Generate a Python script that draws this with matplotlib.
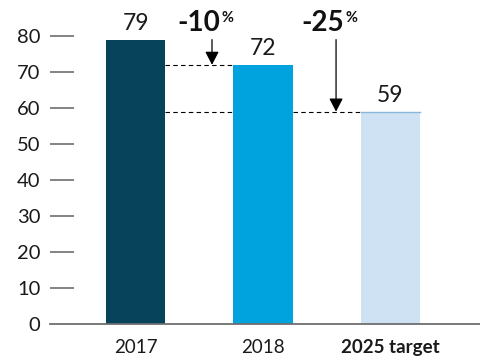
import matplotlib
matplotlib.use("Agg")
import matplotlib.pyplot as plt
from matplotlib.patches import FancyArrowPatch

# Data
categories = ["2017", "2018", "2025 target"]
values = [79, 72, 59]
bar_colors = ["#07435b", "#00a3dd", "#cfe2f3"]
changes = ["-10", "-25"]
y_ticks = [0, 10, 20, 30, 40, 50, 60, 70, 80]

plt.rcParams["font.family"] = ["Lato", "DejaVu Sans"]

fig = plt.figure(figsize=(4.8, 3.6), dpi=100)
ax = fig.add_axes([50 / 480, 0.1, 430 / 480, 0.9])

x = list(range(len(categories)))
width = 0.463
bars = ax.bar(x, values, width=width, color=bar_colors, zorder=2)
# thin top edge on the target bar
ax.plot([x[2] - width / 2, x[2] + width / 2], [values[2], values[2]],
        color="#8cb6d8", lw=1.0, zorder=3)

ax.set_xlim(-0.6706, 2.702)
ax.set_ylim(0, 90)

# value labels
for xi, v in zip(x, values):
    ax.annotate(str(v), (xi, v), xytext=(0, 7), textcoords="offset points",
                ha="center", va="baseline", fontsize=16.5, color="#1a1a1a")

# dashed reference lines between bars
dash = dict(color="black", lw=0.8, ls=(0, (4, 3)), zorder=1)
half = width / 2
ax.plot([x[0] + half, x[1] - half], [values[1], values[1]], **dash)
ax.plot([x[0] + half, x[1] - half], [values[2], values[2]], **dash)
ax.plot([x[1] + half, x[2] - half], [values[2], values[2]], **dash)

# arrows and change labels
arrow_x = [0.6, 1.573]
targets = [values[1], values[2]]
for ax_x, tgt, lab in zip(arrow_x, targets, changes):
    arr = FancyArrowPatch((ax_x, 79.0), (ax_x, tgt), arrowstyle="-|>,head_length=5,head_width=2.6",
                          mutation_scale=1.6, color="black", lw=0.9, shrinkA=0, shrinkB=0, zorder=4)
    ax.add_patch(arr)
    ax.annotate(lab, (ax_x, 81.3), xytext=(6, 0), textcoords="offset points",
                ha="right", va="baseline", fontsize=20, fontweight="bold", color="#111111")
    ax.annotate("%", (ax_x, 81.3), xytext=(6.5, 7.0), textcoords="offset points",
                ha="left", va="baseline", fontsize=10.5, fontweight="bold", color="#111111")

# axes styling
for s in ["top", "right", "left"]:
    ax.spines[s].set_visible(False)
ax.spines["bottom"].set_color("#6e6e6e")
ax.spines["bottom"].set_linewidth(1.3)
ax.spines["bottom"].set_zorder(5)

ax.set_yticks(y_ticks)
ax.set_yticklabels([str(t) for t in y_ticks], fontsize=14.5, color="#1a1a1a")
ax.tick_params(axis="y", direction="in", length=17, width=1.3, color="#7a7a7a", pad=7)
ax.get_yticklines()[0].set_visible(False)
ax.get_yticklines()[1].set_visible(False)

ax.set_xticks(x)
ax.set_xticklabels(categories, fontsize=13.5, color="#1a1a1a")
ax.get_xticklabels()[2].set_fontweight("bold")
ax.tick_params(axis="x", length=0, pad=10.5)

fig.savefig("out.png", dpi=100)
